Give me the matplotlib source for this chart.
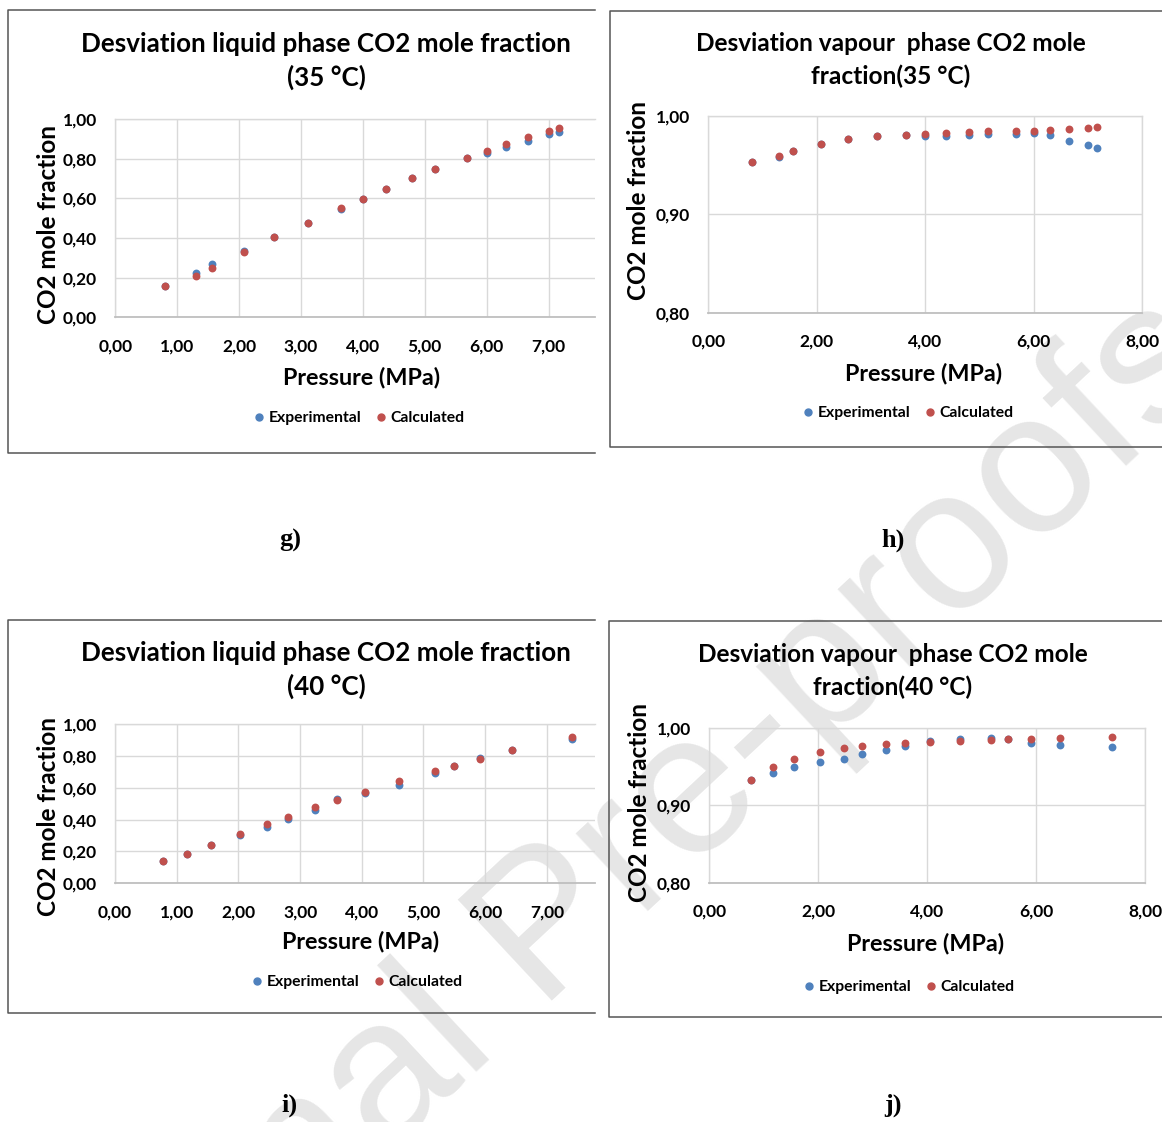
import matplotlib
matplotlib.use("Agg")
import matplotlib.pyplot as plt
from matplotlib.lines import Line2D
from matplotlib.ticker import FuncFormatter, MultipleLocator

W, H = 1162, 1122

# pressures (MPa)
p35 = [0.81, 1.31, 1.56, 2.08, 2.57, 3.12, 3.65, 4.00, 4.38, 4.80, 5.16, 5.68, 6.01, 6.31, 6.66, 7.01, 7.17]
p40 = [0.77, 1.17, 1.55, 2.03, 2.47, 2.80, 3.24, 3.60, 4.06, 4.60, 5.18, 5.49, 5.91, 6.44, 7.40]

# liquid phase CO2 mole fraction
xl35_exp = [0.159, 0.225, 0.267, 0.333, 0.405, 0.477, 0.545, 0.598, 0.649, 0.701, 0.746, 0.802, 0.830, 0.860, 0.889, 0.926, 0.936]
xl35_calc = [0.159, 0.210, 0.250, 0.331, 0.405, 0.477, 0.551, 0.598, 0.647, 0.701, 0.746, 0.802, 0.840, 0.872, 0.909, 0.941, 0.956]
xl40_exp = [0.140, 0.184, 0.242, 0.301, 0.353, 0.401, 0.458, 0.530, 0.566, 0.618, 0.690, 0.735, 0.788, 0.838, 0.903]
xl40_calc = [0.140, 0.184, 0.242, 0.311, 0.372, 0.416, 0.476, 0.520, 0.572, 0.641, 0.704, 0.735, 0.779, 0.838, 0.921]

# vapour phase CO2 mole fraction
yv35_exp = [0.9535, 0.9580, 0.9647, 0.9718, 0.9766, 0.9800, 0.9807, 0.9797, 0.9797, 0.9810, 0.9820, 0.9820, 0.9824, 0.9807, 0.9749, 0.9708, 0.9674]
yv35_calc = [0.9535, 0.9596, 0.9647, 0.9718, 0.9766, 0.9797, 0.9807, 0.9820, 0.9830, 0.9837, 0.9844, 0.9850, 0.9850, 0.9857, 0.9864, 0.9878, 0.9888]
yv40_exp = [0.9334, 0.9417, 0.9495, 0.9567, 0.9607, 0.9667, 0.9715, 0.9775, 0.9840, 0.9865, 0.9878, 0.9860, 0.9810, 0.9784, 0.9758]
yv40_calc = [0.9334, 0.9495, 0.9607, 0.9689, 0.9745, 0.9771, 0.9793, 0.9814, 0.9827, 0.9840, 0.9853, 0.9861, 0.9861, 0.9874, 0.9883]

BLUE = "#4f81bd"
RED = "#c0504d"
GRID = "#d9d9d9"
FONT = "Lato"

fig = plt.figure(figsize=(W / 100, H / 100), dpi=100)
fig.patch.set_facecolor("white")


def fx(x):
    return x / W


def fy(y):
    return 1 - y / H


def comma(v, pos):
    return f"{v:.2f}".replace(".", ",")


def frame(x0, x1, y0, y1):
    # open box, right edge runs off the page
    kw = dict(color="#555555", lw=1.1, transform=fig.transFigure)
    fig.add_artist(Line2D([fx(x1), fx(x0), fx(x0), fx(x1)],
                          [fy(y0), fy(y0), fy(y1), fy(y1)], **kw))


def panel(box, x, exp, calc, xlim, xstep, ylim, ystep, title, tsize, tpos, xlab, ylab, leg, letter):
    x0, x1, y0, y1 = box
    ax = fig.add_axes([fx(x0), fy(y1), fx(x1 - x0), (y1 - y0) / H])
    ax.patch.set_alpha(0)
    ax.scatter(x, exp, s=32, color=BLUE, zorder=3, linewidths=0)
    ax.scatter(x, calc, s=32, color=RED, zorder=4, linewidths=0)
    ax.set_xlim(*xlim)
    ax.set_ylim(*ylim)
    ax.xaxis.set_major_locator(MultipleLocator(xstep))
    ax.yaxis.set_major_locator(MultipleLocator(ystep))
    ax.xaxis.set_major_formatter(FuncFormatter(comma))
    ax.yaxis.set_major_formatter(FuncFormatter(comma))
    ax.grid(True, color=GRID, lw=1.0)
    ax.set_axisbelow(True)
    for side in ["left", "top", "right"]:
        ax.spines[side].set_color(GRID)
        ax.spines[side].set_linewidth(1.0)
    ax.spines["bottom"].set_color("#bfbfbf")
    ax.spines["bottom"].set_linewidth(1.3)
    if xlim[1] < 8:
        ax.spines["right"].set_visible(False)
    ax.tick_params(length=0, labelsize=12.5, pad=13)
    ax.tick_params(axis="x", pad=15)
    for t in ax.get_xticklabels() + ax.get_yticklabels():
        t.set_fontweight("bold")
        t.set_fontfamily(FONT)
    fig.text(fx(tpos[0]), fy(tpos[1]), title, ha="center", va="center",
             multialignment="center", fontsize=tsize, fontweight="bold",
             family=FONT, linespacing=1.42 * 18.7 / tsize)
    fig.text(fx(xlab[0]), fy(xlab[1]), "Pressure (MPa)", ha="center", va="center",
             fontsize=16.8, fontweight="bold", family=FONT)
    fig.text(fx(ylab[0]), fy(ylab[1]), "CO2 mole fraction", ha="center", va="center",
             rotation=90, fontsize=17.5, fontweight="bold", family=FONT)
    handles = [Line2D([], [], ls="", marker="o", ms=5, color=BLUE, label="Experimental"),
               Line2D([], [], ls="", marker="o", ms=5, color=RED, label="Calculated")]
    fig.legend(handles=handles, loc="center", bbox_to_anchor=(fx(leg[0]), fy(leg[1])),
               ncol=2, frameon=False, handletextpad=0.1, columnspacing=0.8,
               handlelength=1.0, prop={"family": FONT, "weight": "bold", "size": 11.3})
    fig.text(fx(letter[0]), fy(letter[1]), letter[2], ha="center", va="center",
             fontsize=19, fontweight="bold", family="Liberation Serif")
    return ax


# 35 °C
panel((115.3, 595, 119, 317.3), p35, xl35_exp, xl35_calc, (0, 7.75), 1, (0, 1), 0.2,
      "Desviation liquid phase CO2 mole fraction\n(35 °C)", 18.7, (326, 61),
      (362, 378), (48, 224), (358, 418), (290, 540, "g)"))
frame(8, 595, 10, 453)

panel((708.3, 1142, 116, 312.7), p35, yv35_exp, yv35_calc, (0, 8), 2, (0.8, 1.0), 0.1,
      "Desviation vapour  phase CO2 mole\nfraction(35 °C)", 17.6, (891, 60),
      (924, 374), (638, 200), (907, 413), (893, 540, "h)"))
frame(610, 1170, 11, 447)

# 40 °C
panel((115, 595, 724, 883.3), p40, xl40_exp, xl40_calc, (0, 7.78), 1, (0, 1), 0.2,
      "Desviation liquid phase CO2 mole fraction\n(40 °C)", 18.7, (326, 670),
      (361, 942), (48, 817), (356, 982), (290, 1105, "i)"))
frame(8, 595, 620, 1013)

panel((709.3, 1145, 728.3, 882.7), p40, yv40_exp, yv40_calc, (0, 8), 2, (0.8, 1.0), 0.1,
      "Desviation vapour  phase CO2 mole\nfraction(40 °C)", 17.6, (893, 671),
      (926, 944), (640, 803), (908, 987), (893, 1105, "j)"))
frame(609, 1170, 621, 1017)

# watermark behind the panels
fig.text(fx(622), fy(935), "Journal Pre-proofs", ha="center", va="baseline",
         rotation=43, rotation_mode="anchor", fontsize=145, color="#e6e6e6",
         family="Liberation Sans", zorder=-5)

fig.savefig("out.png", dpi=100)
